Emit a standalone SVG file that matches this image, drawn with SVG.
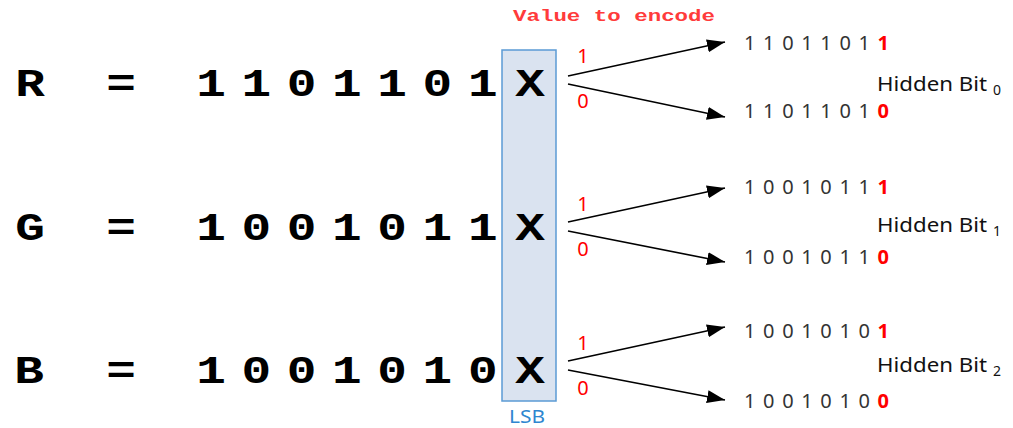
<svg xmlns="http://www.w3.org/2000/svg" width="1013" height="428" viewBox="0 0 1013 428">
  <style>
    .big { font-family: "Liberation Mono", monospace; font-weight: bold; font-size: 38px; fill: #000; text-anchor: middle; }
    .title { font-family: "Liberation Mono", monospace; font-weight: bold; font-size: 17px; fill: #FF3B3B; }
    .bin { font-family: "Noto Sans", "Liberation Sans", sans-serif; font-size: 20px; fill: #333; }
    .bit { fill: #FF0000; font-weight: bold; }
    .lbl { font-family: "Noto Sans", "Liberation Sans", sans-serif; font-size: 20px; fill: #FF0000; text-anchor: middle; }
    .hid { font-family: "Noto Sans", "Liberation Sans", sans-serif; font-size: 20px; fill: #111; }
    .sub { font-family: "Noto Sans", "Liberation Sans", sans-serif; font-size: 14px; fill: #111; }
    .lsb { font-family: "Noto Sans", "Liberation Sans", sans-serif; font-size: 18px; fill: #2E86D0; }
    .conn { stroke: #000; stroke-width: 1.6; fill: none; marker-end: url(#arrow); }
  </style>
  <defs>
    <marker id="arrow" markerUnits="userSpaceOnUse" markerWidth="20" markerHeight="14" refX="18" refY="6.5" orient="auto">
      <path d="M0,0 L18,6.5 L0,13 Z" fill="#000"/>
    </marker>
  </defs>

  <g id="lsb-box">
    <rect x="502" y="50" width="54" height="351" fill="#DAE3F0" stroke="#5B9BD5" stroke-width="1.5"/>
    <text class="lsb" x="509" y="423" textLength="36" lengthAdjust="spacingAndGlyphs">LSB</text>
  </g>

  <g id="title">
    <text class="title" x="513" y="21" textLength="202" lengthAdjust="spacingAndGlyphs">Value to encode</text>
  </g>

  <g id="row-r">
    <g transform="translate(0,96) scale(1.3,1)">
      <text class="big" x="23.1 93.1 162.3 197.2 232 266.8 301.7 336.5 371.4 407.7" y="0">R=1101101X</text>
    </g>
  </g>
  <g id="row-g">
    <g transform="translate(0,239.5) scale(1.3,1)">
      <text class="big" x="23.1 93.1 162.3 197.2 232 266.8 301.7 336.5 371.4 407.7" y="0">G=1001011X</text>
    </g>
  </g>
  <g id="row-b">
    <g transform="translate(0,383) scale(1.3,1)">
      <text class="big" x="22.3 93.1 162.3 197.2 232 266.8 301.7 336.5 371.4 407.7" y="0">B=1001010X</text>
    </g>
  </g>

  <g id="connectors">
    <line class="conn" x1="568" y1="76" x2="725" y2="42"/>
    <line class="conn" x1="568" y1="84" x2="725" y2="117"/>
    <line class="conn" x1="568" y1="222" x2="725" y2="188"/>
    <line class="conn" x1="568" y1="231" x2="725" y2="262"/>
    <line class="conn" x1="568" y1="361" x2="725" y2="327"/>
    <line class="conn" x1="568" y1="370" x2="725" y2="400"/>
  </g>

  <g id="labels">
    <text class="lbl" x="583" y="63">1</text>
    <text class="lbl" x="583" y="108">0</text>
    <text class="lbl" x="583" y="211">1</text>
    <text class="lbl" x="583" y="256">0</text>
    <text class="lbl" x="583" y="350">1</text>
    <text class="lbl" x="583" y="395">0</text>
  </g>

  <g id="out-r">
    <text class="bin" x="744" y="50" textLength="145" lengthAdjust="spacing">1101101<tspan class="bit">1</tspan></text>
    <text class="bin" x="744" y="118" textLength="145" lengthAdjust="spacing">1101101<tspan class="bit">0</tspan></text>
    <text class="hid" x="877" y="91" textLength="110" lengthAdjust="spacingAndGlyphs">Hidden Bit</text>
    <text class="sub" x="993" y="95">0</text>
  </g>
  <g id="out-g">
    <text class="bin" x="744" y="194" textLength="145" lengthAdjust="spacing">1001011<tspan class="bit">1</tspan></text>
    <text class="bin" x="744" y="264" textLength="145" lengthAdjust="spacing">1001011<tspan class="bit">0</tspan></text>
    <text class="hid" x="877" y="232" textLength="110" lengthAdjust="spacingAndGlyphs">Hidden Bit</text>
    <text class="sub" x="993" y="236">1</text>
  </g>
  <g id="out-b">
    <text class="bin" x="744" y="338" textLength="145" lengthAdjust="spacing">1001010<tspan class="bit">1</tspan></text>
    <text class="bin" x="744" y="408" textLength="145" lengthAdjust="spacing">1001010<tspan class="bit">0</tspan></text>
    <text class="hid" x="877" y="372" textLength="110" lengthAdjust="spacingAndGlyphs">Hidden Bit</text>
    <text class="sub" x="993" y="376">2</text>
  </g>
</svg>
